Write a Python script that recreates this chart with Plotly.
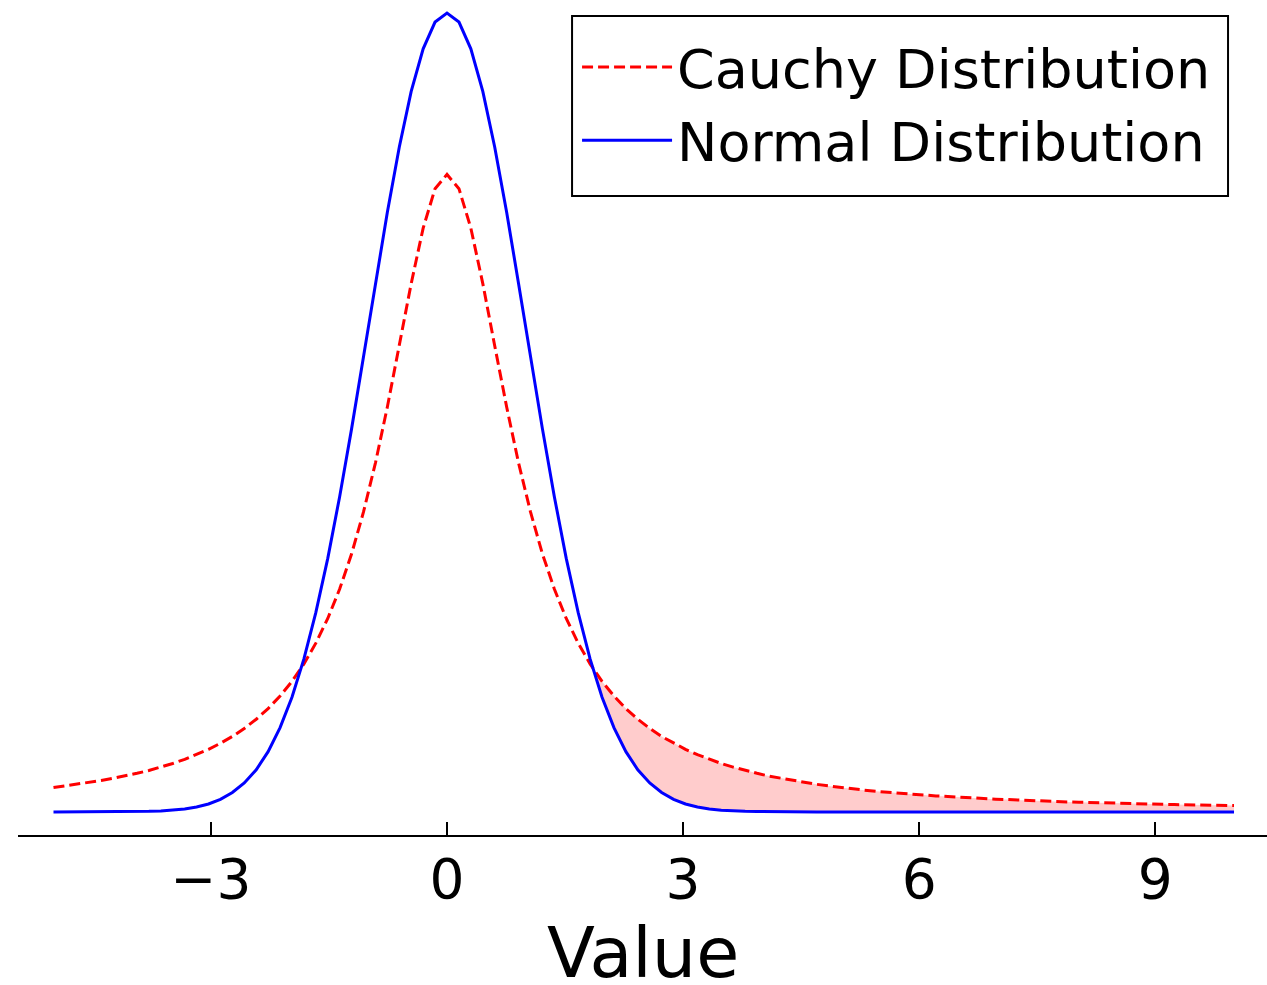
import plotly.graph_objects as go

# x grid
x_vals = [
    -5.000, -4.848, -4.697, -4.545, -4.394, -4.242, -4.091, -3.939, -3.788, -3.636,
    -3.485, -3.333, -3.182, -3.030, -2.879, -2.727, -2.576, -2.424, -2.273, -2.121,
    -1.970, -1.818, -1.667, -1.515, -1.364, -1.212, -1.061, -0.909, -0.758, -0.606,
    -0.455, -0.303, -0.152, 0.000, 0.152, 0.303, 0.455, 0.606, 0.758, 0.909,
    1.061, 1.212, 1.364, 1.515, 1.667, 1.818, 1.970, 2.121, 2.273, 2.424,
    2.576, 2.727, 2.879, 3.030, 3.182, 3.333, 3.485, 3.636, 3.788, 3.939,
    4.091, 4.242, 4.394, 4.545, 4.697, 4.848, 5.000, 5.152, 5.303, 5.455,
    5.606, 5.758, 5.909, 6.061, 6.212, 6.364, 6.515, 6.667, 6.818, 6.970,
    7.121, 7.273, 7.424, 7.576, 7.727, 7.879, 8.030, 8.182, 8.333, 8.485,
    8.636, 8.788, 8.939, 9.091, 9.242, 9.394, 9.545, 9.697, 9.848, 10.000,
]

cauchy_vals = [
    0.0122, 0.0130, 0.0138, 0.0147, 0.0157, 0.0168, 0.0179, 0.0193, 0.0207, 0.0224,
    0.0242, 0.0263, 0.0286, 0.0313, 0.0343, 0.0377, 0.0417, 0.0463, 0.0516, 0.0579,
    0.0652, 0.0739, 0.0843, 0.0966, 0.1113, 0.1289, 0.1498, 0.1743, 0.2022, 0.2328,
    0.2638, 0.2915, 0.3112, 0.3183, 0.3112, 0.2915, 0.2638, 0.2328, 0.2022, 0.1743,
    0.1498, 0.1289, 0.1113, 0.0966, 0.0843, 0.0739, 0.0652, 0.0579, 0.0516, 0.0463,
    0.0417, 0.0377, 0.0343, 0.0313, 0.0286, 0.0263, 0.0242, 0.0224, 0.0207, 0.0193,
    0.0179, 0.0168, 0.0157, 0.0147, 0.0138, 0.0130, 0.0122, 0.0116, 0.0109, 0.0103,
    0.0098, 0.0093, 0.0089, 0.0084, 0.0080, 0.0077, 0.0073, 0.0070, 0.0067, 0.0064,
    0.0062, 0.0059, 0.0057, 0.0055, 0.0052, 0.0050, 0.0049, 0.0047, 0.0045, 0.0044,
    0.0042, 0.0041, 0.0039, 0.0038, 0.0037, 0.0036, 0.0035, 0.0033, 0.0032, 0.0032,
]

normal_vals = [
    0.0000, 0.0000, 0.0000, 0.0000, 0.0000, 0.0000, 0.0001, 0.0002, 0.0003, 0.0005,
    0.0009, 0.0015, 0.0025, 0.0040, 0.0063, 0.0097, 0.0145, 0.0211, 0.0301, 0.0421,
    0.0573, 0.0764, 0.0995, 0.1266, 0.1574, 0.1914, 0.2273, 0.2639, 0.2994, 0.3320,
    0.3598, 0.3810, 0.3944, 0.3989, 0.3944, 0.3810, 0.3598, 0.3320, 0.2994, 0.2639,
    0.2273, 0.1914, 0.1574, 0.1266, 0.0995, 0.0764, 0.0573, 0.0421, 0.0301, 0.0211,
    0.0145, 0.0097, 0.0063, 0.0040, 0.0025, 0.0015, 0.0009, 0.0005, 0.0003, 0.0002,
    0.0001, 0.0000, 0.0000, 0.0000, 0.0000, 0.0000, 0.0000, 0.0000, 0.0000, 0.0000,
    0.0000, 0.0000, 0.0000, 0.0000, 0.0000, 0.0000, 0.0000, 0.0000, 0.0000, 0.0000,
    0.0000, 0.0000, 0.0000, 0.0000, 0.0000, 0.0000, 0.0000, 0.0000, 0.0000, 0.0000,
    0.0000, 0.0000, 0.0000, 0.0000, 0.0000, 0.0000, 0.0000, 0.0000, 0.0000, 0.0000,
]

# right-hand crossing point where the shaded region begins
cross_x = 1.855
cross_y = 0.0718
fill_start = 46  # first grid index after the crossing

tick_vals = [-3, 0, 3, 6, 9]
tick_text = ["\u22123", "0", "3", "6", "9"]

series_names = ["Cauchy Distribution", "Normal Distribution"]
x_title = "Value"

fill_x = [cross_x] + x_vals[fill_start:]
fill_low = [cross_y] + normal_vals[fill_start:]
fill_high = [cross_y] + cauchy_vals[fill_start:]

FONT = "DejaVu Sans"

fig = go.Figure()
fig.add_trace(go.Scatter(
    x=fill_x, y=fill_low, mode="lines", line=dict(width=0),
    showlegend=False, hoverinfo="skip"))
fig.add_trace(go.Scatter(
    x=fill_x, y=fill_high, mode="lines", line=dict(width=0),
    fill="tonexty", fillcolor="rgba(255,0,0,0.2)",
    showlegend=False, hoverinfo="skip"))
fig.add_trace(go.Scatter(
    x=x_vals, y=cauchy_vals, mode="lines", name=series_names[0],
    line=dict(color="#ff0000", width=3, dash="11px,5px")))
fig.add_trace(go.Scatter(
    x=x_vals, y=normal_vals, mode="lines", name=series_names[1],
    line=dict(color="#0000ff", width=3)))

# legend frame
fig.add_shape(type="rect", xref="paper", yref="paper",
              x0=0.4436, x1=0.9688, y0=0.7653, y1=0.9808,
              line=dict(color="black", width=2), fillcolor="rgba(0,0,0,0)")

# x-axis title (placed as annotation so it can sit close to the bottom edge)
fig.add_annotation(
    text=x_title, xref="paper", yref="paper", x=0.5, y=0,
    xanchor="center", yanchor="middle", yshift=-118, showarrow=False,
    font=dict(size=70, family=FONT, color="black"))

fig.update_layout(
    width=1267, height=985,
    margin=dict(l=18, r=0, t=0, b=150, pad=0),
    paper_bgcolor="white", plot_bgcolor="white",
    font=dict(family=FONT, color="black"),
    legend=dict(
        x=0.4476, y=0.9695, xanchor="left", yanchor="top",
        borderwidth=0, bgcolor="rgba(0,0,0,0)",
        font=dict(size=54, family=FONT, color="black"),
        itemwidth=90, traceorder="normal",
    ),
    xaxis=dict(
        range=[-5.451, 10.419],
        showgrid=False, zeroline=False,
        showline=True, linecolor="black", linewidth=2,
        ticks="inside", ticklen=13, tickwidth=2, tickcolor="black",
        tickvals=tick_vals, ticktext=tick_text,
        tickfont=dict(size=55, family=FONT, color="black"),
        ticklabelstandoff=-5,
    ),
    yaxis=dict(
        range=[-0.0115, 0.4054],
        visible=False,
    ),
)

fig.write_html("out.html")
